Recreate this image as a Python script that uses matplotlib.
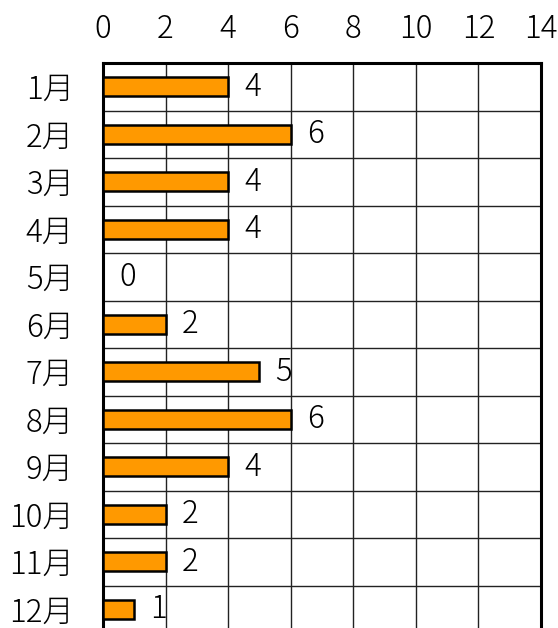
import matplotlib
matplotlib.use("Agg")
import matplotlib.pyplot as plt
import numpy as np

plt.rcParams['font.family'] = ['Noto Sans CJK JP', 'DejaVu Sans']

months = ['1月', '2月', '3月', '4月', '5月', '6月', '7月', '8月', '9月', '10月', '11月', '12月']
values = [4, 6, 4, 4, 0, 2, 5, 6, 4, 2, 2, 1]
xticks = [0, 2, 4, 6, 8, 10, 12, 14]

fig = plt.figure(figsize=(5.58, 6.28), dpi=100)
W, H = 558, 628
left, right, top, bottom = 103, 541, 63, 633
ax = fig.add_axes([left / W, 1 - bottom / H, (right - left) / W, (bottom - top) / H])

FS = 22.5
y = np.arange(len(months))
ax.barh(y, values, height=0.4, color='#FF9900', edgecolor='black', linewidth=1.8, zorder=3)

for yi, v in zip(y, values):
    ax.annotate(str(v), xy=(v, yi), xytext=(16, 0), textcoords='offset pixels',
                ha='left', va='center', fontsize=FS, fontweight='light', zorder=4)

ax.set_xlim(0, 14)
ax.set_ylim(len(months) - 0.5, -0.5)
ax.set_xticks(xticks)
ax.set_xticklabels([str(t) for t in xticks], fontsize=FS, fontweight='light')
ax.set_yticks(y)
ax.set_yticklabels(months, fontsize=FS, fontweight='light')
ax.set_yticks(np.arange(len(months) + 1) - 0.5, minor=True)
ax.xaxis.tick_top()
ax.tick_params(axis='x', which='both', length=0, pad=13)
ax.tick_params(axis='y', which='both', length=0, pad=21)
ax.grid(axis='x', which='major', color='#222222', linewidth=1.0, zorder=0)
ax.grid(axis='y', which='minor', color='#222222', linewidth=1.0, zorder=0)
ax.set_axisbelow(True)
for s in ['left', 'top', 'right']:
    ax.spines[s].set_linewidth(2.2)
ax.spines['bottom'].set_visible(False)

fig.savefig('out.png', dpi=100)
